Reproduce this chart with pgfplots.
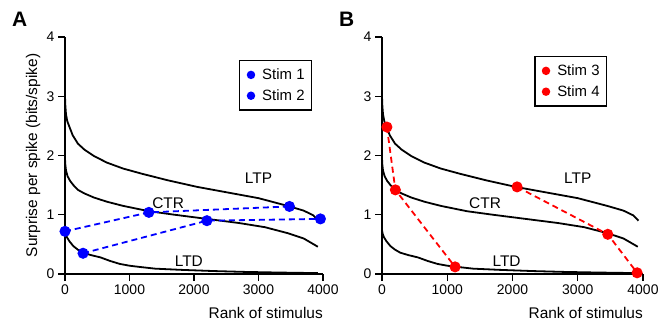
\documentclass[border=0pt]{standalone}
\usepackage{fontspec}
\setmainfont{Liberation Sans}
\usepackage{pgfplots}
\pgfplotsset{compat=1.18}
\usepackage{pgfplotstable}

\pgfplotstableread{
x y
0 3.00
5 2.85
15 2.70
35 2.58
70 2.48
120 2.34
200 2.20
300 2.10
450 1.99
650 1.88
900 1.78
1200 1.69
1600 1.58
2050 1.47
2500 1.38
3000 1.28
3450 1.15
3700 1.07
3850 0.99
3930 0.90
}\ltp

\pgfplotstableread{
x y
0 1.95
5 1.85
15 1.75
40 1.65
80 1.57
130 1.50
200 1.42
300 1.36
450 1.29
650 1.22
900 1.15
1300 1.06
1700 1.00
2200 0.93
2700 0.86
3100 0.79
3450 0.69
3700 0.60
3920 0.46
}\ctr

\pgfplotstableread{
x y
0 0.74
10 0.68
30 0.62
70 0.55
130 0.47
200 0.41
280 0.36
400 0.32
550 0.28
700 0.22
850 0.17
1000 0.14
1150 0.12
1400 0.09
1800 0.07
2300 0.05
2800 0.035
3300 0.025
3920 0.015
}\ltd

\pgfplotstableread{
x y
0 0.72
1300 1.04
3480 1.14
}\stimone
\pgfplotstableread{
x y
280 0.35
2200 0.90
3960 0.93
}\stimtwo
\pgfplotstableread{
x y
75 2.48
205 1.42
1120 0.12
}\stimthree
\pgfplotstableread{
x y
2070 1.47
3460 0.67
3910 0.02
}\stimfour

\pgfplotsset{
 myaxis/.style={
  scale only axis, width=258bp, height=237bp,
  xmin=0, xmax=4000, ymin=0, ymax=4,
  axis lines*=left,
  axis line style={line width=1.4bp, black},
  xtick={0,1000,2000,3000,4000}, ytick={0,1,2,3,4},
  tick align=outside, major tick length=7bp,
  every tick/.style={black, line width=1.4bp},
  scaled ticks=false,
  /pgf/number format/1000 sep={},
  /pgf/number format/assume math mode=true,
  tick label style={font=\fontsize{14}{16}\selectfont},
  label style={font=\fontsize{15.5}{18}\selectfont},
  xlabel={Rank of stimulus},
  xlabel style={at={(axis description cs:1,0)}, anchor=base east, yshift=-44bp, inner sep=0pt},
  clip=false,
  legend style={draw=black, line width=1.5bp, font=\fontsize{15}{18}\selectfont,
    inner xsep=7bp, inner ysep=8bp, row sep=8.5bp, cells={anchor=west},
    nodes={inner sep=0pt},
    /tikz/every odd column/.append style={column sep=7bp}},
 },
 curve/.style={black, line width=1.8bp, no marks},
 stim/.style={#1, line width=1.8bp, dash pattern=on 6bp off 4bp, mark=*, mark size=4.6bp,
   mark options={solid, fill=#1, draw=#1}},
}

\begin{document}
\begin{tikzpicture}
\useasboundingbox (0,0) rectangle (660bp,324bp);
\node[anchor=base west, inner sep=0pt, font=\fontsize{21}{21}\selectfont\bfseries] at (12bp,297bp) {A};
\node[anchor=base west, inner sep=0pt, font=\fontsize{21}{21}\selectfont\bfseries] at (339bp,297bp) {B};

\begin{axis}[myaxis, at={(65bp,50bp)}, anchor=south west,
  ylabel={Surprise per spike (bits/spike)},
  ylabel style={at={(axis description cs:-0.124,0.5)}, anchor=center},
  legend style={at={(axis description cs:0.6744,0.903)}, anchor=north west}]
\addplot[curve, forget plot] table {\ltp};
\addplot[curve, forget plot] table {\ctr};
\addplot[curve, forget plot] table {\ltd};
\addplot[stim=blue, legend image code/.code={\node[circle, fill=blue, inner sep=0pt, minimum size=8.5bp] at (4.25bp,0) {};}] table {\stimone};
\addlegendentry{Stim 1}
\addplot[stim=blue, legend image code/.code={\node[circle, fill=blue, inner sep=0pt, minimum size=8.5bp] at (4.25bp,0) {};}] table {\stimtwo};
\addlegendentry{Stim 2}
\node[font=\fontsize{15.5}{18}\selectfont] at (axis cs:3000,1.62) {LTP};
\node[font=\fontsize{15.5}{18}\selectfont] at (axis cs:1600,1.19) {CTR};
\node[font=\fontsize{15.5}{18}\selectfont] at (axis cs:1920,0.21) {LTD};
\end{axis}

\begin{axis}[myaxis, at={(382bp,50bp)}, anchor=south west, width=261bp,
  legend style={at={(axis description cs:0.5824,0.92)}, anchor=north west}]
\addplot[curve, forget plot] table {\ltp};
\addplot[curve, forget plot] table {\ctr};
\addplot[curve, forget plot] table {\ltd};
\addplot[stim=red, legend image code/.code={\node[circle, fill=red, inner sep=0pt, minimum size=8.5bp] at (4.25bp,0) {};}] table {\stimthree};
\addlegendentry{Stim 3}
\addplot[stim=red, legend image code/.code={\node[circle, fill=red, inner sep=0pt, minimum size=8.5bp] at (4.25bp,0) {};}] table {\stimfour};
\addlegendentry{Stim 4}
\node[font=\fontsize{15.5}{18}\selectfont] at (axis cs:3000,1.62) {LTP};
\node[font=\fontsize{15.5}{18}\selectfont] at (axis cs:1580,1.19) {CTR};
\node[font=\fontsize{15.5}{18}\selectfont] at (axis cs:1910,0.21) {LTD};
\end{axis}
\end{tikzpicture}
\end{document}
